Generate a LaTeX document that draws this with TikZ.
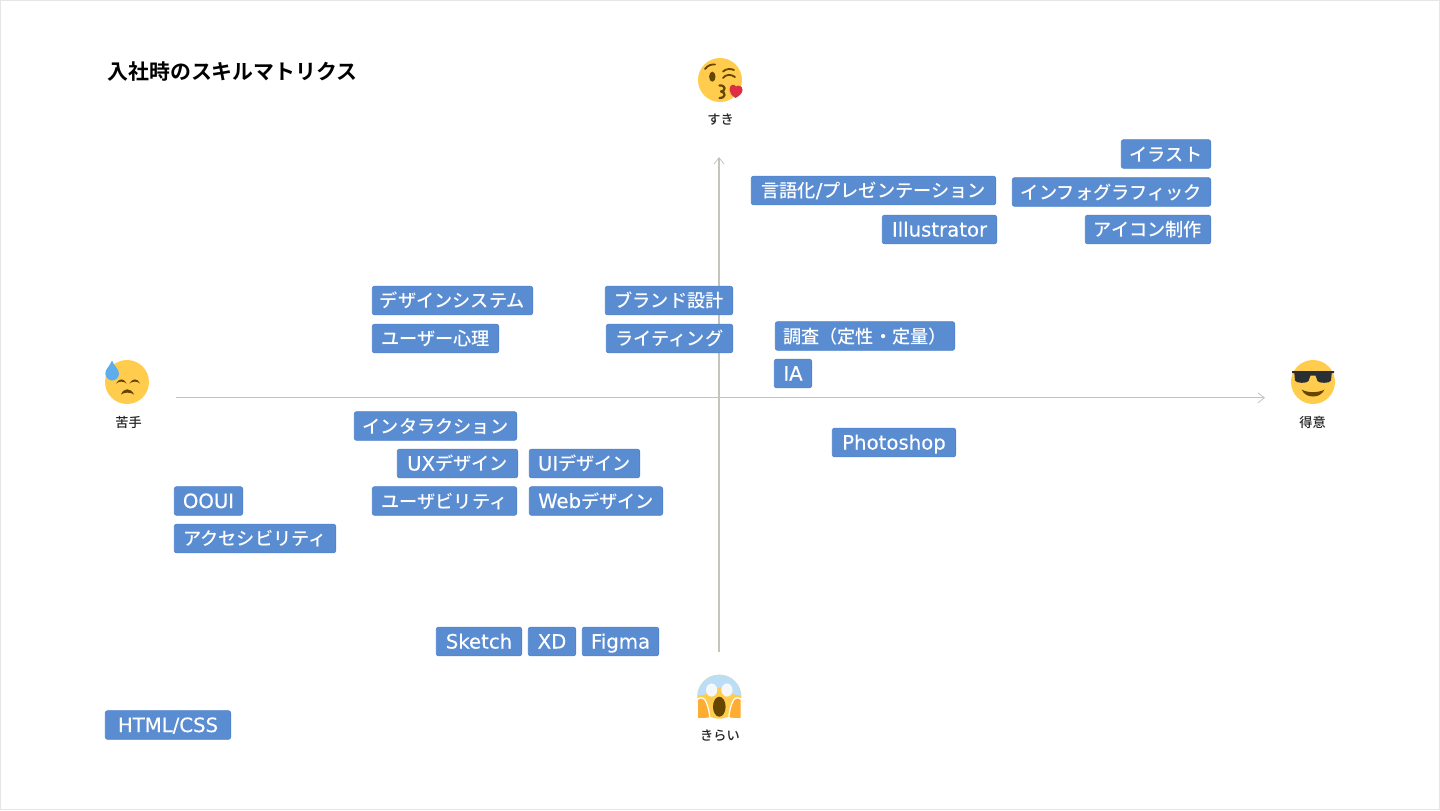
\documentclass[tikz,border=0pt]{standalone}
\usepackage{fontspec}
\setmainfont{Noto Sans CJK JP}[UprightFont=* Medium,BoldFont=* Bold]
\newfontfamily\latfont{DejaVu Sans}[FakeBold=0.25]
\newcommand{\lat}[1]{{\latfont\fontsize{9.85pt}{11pt}\selectfont #1}}
\usetikzlibrary{arrows.meta}
\definecolor{tagblue}{HTML}{5A8CD2}
\definecolor{tagedge}{HTML}{4F82CC}
\definecolor{axisc}{HTML}{C4C4BB}
\definecolor{facey}{HTML}{FFCC4D}
\definecolor{faceb}{HTML}{664500}
\definecolor{heart}{HTML}{DD2E44}
\definecolor{drop}{HTML}{5DADEC}
\definecolor{glassc}{HTML}{292F33}
\definecolor{paleb}{HTML}{BBDDF5}
\definecolor{handc}{HTML}{FFAC33}
\definecolor{eyew}{HTML}{F5F8FA}
\definecolor{framec}{HTML}{E6E6E6}
\tikzset{
 x=0.5pt,y=-0.5pt,
 tagbox/.style={fill=tagblue,draw=tagedge,line width=0.3pt,rounded corners=1.2pt,text=white,inner sep=0pt,
   font=\fontsize{9.1pt}{11pt}\selectfont,anchor=center,minimum height=14.4pt,text height=9pt,text depth=2pt},
 axisline/.style={draw=axisc,line width=0.6pt,-{Straight Barb[length=3.2pt,width=5pt,line width=0.4pt]}},
 caption/.style={font=\fontsize{6.6pt}{8pt}\selectfont,text=black!85,inner sep=0pt},
 titletext/.style={font=\fontsize{10.45pt}{12pt}\selectfont\bfseries,text=black,inner sep=0pt,anchor=west},
 face/.style={fill=facey,draw=none},
}
\newcommand{\tagnode}[6]{\node[tagbox,minimum width=#4*0.5pt-#2*0.5pt-0.25pt] (#1) at ({(#2+#4)/2},{(#3+#5)/2}) {#6};}
\begin{document}
\begin{tikzpicture}
\useasboundingbox (0,0) rectangle (1440,810);
\fill[white] (0,0) rectangle (1440,810);
\draw[framec,line width=0.5pt] (0.5,0.5) rectangle (1439.5,809.5);
\node[titletext] (title) at (107,72) {入社時のスキルマトリクス};

% axes
\coordinate (xs) at (176,397.8); \coordinate (xe) at (1265,397.8);
\coordinate (ys) at (719,652); \coordinate (ye) at (719,157);
\draw[axisline] (xs) -- (xe);
\draw[axisline] (ys) -- (ye);

% tags
\tagnode{t1}{1121}{139}{1211}{169}{イラスト}
\tagnode{t2}{751}{176}{996}{205}{言語化\lat{/}プレゼンテーション}
\tagnode{t3}{1012}{177}{1211}{207}{インフォグラフィック}
\tagnode{t4}{882}{215}{997}{244}{\lat{Illustrator}}
\tagnode{t5}{1085}{215}{1211}{244}{アイコン制作}
\tagnode{t6}{372}{286}{533}{315}{デザインシステム}
\tagnode{t7}{605}{286}{733}{315}{ブランド設計}
\tagnode{t8}{372}{324}{499}{353}{ユーザー心理}
\tagnode{t9}{606}{324}{733}{353}{ライティング}
\tagnode{t10}{775}{321}{955}{351}{調査（定性・定量）}
\tagnode{t11}{774}{359}{812}{388}{\lat{IA}}
\tagnode{t12}{354}{411}{517}{441}{インタラクション}
\tagnode{t13}{832}{428}{956}{457}{\lat{Photoshop}}
\tagnode{t14}{397}{449}{518}{478}{\lat{UX}デザイン}
\tagnode{t15}{529}{449}{640}{478}{\lat{UI}デザイン}
\tagnode{t16}{174}{486}{243}{516}{\lat{OOUI}}
\tagnode{t17}{372}{486}{517}{516}{ユーザビリティ}
\tagnode{t18}{529}{486}{663}{516}{\lat{Web}デザイン}
\tagnode{t19}{174}{524}{336}{553}{アクセシビリティ}
\tagnode{t20}{436}{627}{522}{656}{\lat{Sketch}}
\tagnode{t21}{528}{627}{576}{656}{\lat{XD}}
\tagnode{t22}{582}{627}{659}{656}{\lat{Figma}}
\tagnode{t23}{105}{710}{231}{740}{\lat{HTML/CSS}}

% captions
\node[caption] (c1) at (720.5,119.5) {すき};
\node[caption] (c2) at (128.5,422.5) {苦手};
\node[caption] (c3) at (1312.5,422.5) {得意};
\node[caption] (c4) at (720,735.5) {きらい};

% kiss face (top)
\begin{scope}[shift={(720,80)}]
 \fill[face] (0,0) circle[radius=22];
 \fill[faceb] (-7.7,-3.3) ellipse[x radius=3.2,y radius=5];
 \draw[faceb,line width=0.9pt,line cap=round] (-15,-11) .. controls (-12,-15) and (-8,-16) .. (-5,-15.5);
 \draw[faceb,line width=0.9pt,line cap=round] (3,-2) .. controls (6,-6) and (11,-6) .. (15,-3);
 \draw[faceb,line width=0.9pt,line cap=round] (3,-8.5) .. controls (6,-11.5) and (11,-11.5) .. (14,-10);
 \draw[faceb,line width=1.1pt,line cap=round,line join=round] (-0.5,5.5) .. controls (6,5) and (6,11) .. (1,11.5) .. controls (6,12) and (6,18) .. (-0.5,18);
 \fill[heart] (15.5,18) .. controls (11,15) and (9.5,12.5) .. (9.5,9.5) .. controls (9.5,5) and (14,3) .. (16,6.5) .. controls (18.5,4.5) and (22.5,6) .. (22.5,10) .. controls (22.5,13.5) and (19,16) .. (15.5,18) -- cycle;
\end{scope}

% sweat face (left)
\begin{scope}[shift={(127,382)}]
 \fill[face] (0,0) circle[radius=22];
 \fill[faceb] (-11,1.5) .. controls (-8,-4) and (-3,-4) .. (-0.5,1.5) .. controls (-3,-1) and (-8,-1) .. (-11,1.5) -- cycle;
 \fill[faceb] (2.5,1.5) .. controls (5.5,-4) and (10.5,-4) .. (13,1.5) .. controls (10.5,-1) and (5.5,-1) .. (2.5,1.5) -- cycle;
 \fill[faceb] (-6,12.5) .. controls (-3.5,5.5) and (4,5.5) .. (7,12.5) .. controls (4,10) and (-3,10) .. (-6,12.5) -- cycle;
 \fill[drop] (-15,-21.5) .. controls (-13,-16) and (-8,-13) .. (-8,-8.5) .. controls (-8,-4.5) and (-11.5,-1.5) .. (-14.7,-1.5) .. controls (-18,-1.5) and (-21.7,-4.5) .. (-21.7,-8.5) .. controls (-21.7,-13) and (-17,-16) .. (-15,-21.5) -- cycle;
\end{scope}

% sunglasses face (right)
\begin{scope}[shift={(1313,382)}]
 \fill[face] (0,0) circle[radius=22];
 \fill[glassc] (-21,-10.8) -- (21,-10.8) -- (21,-9) -- (18.7,-9) -- (18,-1.5) .. controls (17.5,1.5) and (5.5,1.5) .. (4.5,-1) -- (2.5,-6.5) -- (-2.5,-6.5) -- (-4.5,-1) .. controls (-5.5,1.5) and (-17.5,1.5) .. (-18,-1.5) -- (-18.7,-9) -- (-21,-9) -- cycle;
 \fill[faceb] (-11.5,7.5) .. controls (-6,11) and (6,11) .. (11.5,7.5) .. controls (9,12.5) and (5,14.5) .. (0,14.5) .. controls (-5,14.5) and (-9,12.5) .. (-11.5,7.5) -- cycle;
\end{scope}

% fearful face (bottom)
\begin{scope}[shift={(719.3,696.7)}]
 \fill[face] (0,0) circle[radius=22];
 \begin{scope}
  \clip (0,0) circle[radius=22];
  \fill[paleb] (-22,-1) .. controls (-10,-2) and (-4,-8) .. (0,-9) .. controls (4,-8) and (10,-2) .. (22,-1) -- (22,-22) -- (-22,-22) -- cycle;
 \end{scope}
 \fill[eyew] (-7.7,-6.7) ellipse[x radius=5.6,y radius=6.6];
 \fill[eyew] (7.7,-6.7) ellipse[x radius=5.6,y radius=6.6];
 \fill[faceb] (0,10) ellipse[x radius=6.3,y radius=10];
 \draw[white,line width=0.6pt,fill=handc] (-22,22) -- (-22,3) .. controls (-20,0.5) and (-16.5,0.5) .. (-14.5,3) .. controls (-12,7) and (-10,14) .. (-9.5,21) .. controls (-13,22) and (-18,22.3) .. (-22,22) -- cycle;
 \draw[white,line width=0.6pt,fill=handc] (22,22) -- (22,3) .. controls (20,0.5) and (16.5,0.5) .. (14.5,3) .. controls (12,7) and (10,14) .. (9.5,21) .. controls (13,22) and (18,22.3) .. (22,22) -- cycle;
\end{scope}
\end{tikzpicture}
\end{document}
